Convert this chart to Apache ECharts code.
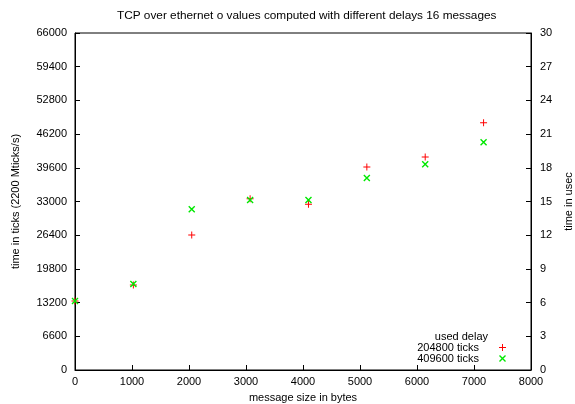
<!DOCTYPE html>
<html>
<head>
<meta charset="utf-8">
<script src="https://cdn.jsdelivr.net/npm/echarts@6/dist/echarts.min.js"></script>
<style>html,body{margin:0;padding:0;background:#fff;}#c{width:575px;height:404px;}</style>
</head>
<body>
<div id="c"></div>
<script>
const titleText = 'TCP over ethernet o values computed with different delays 16 messages';
const messageSizes = [0, 1024, 2048, 3072, 4096, 5120, 6144, 7168];
const ticks204800 = [13500, 16650, 26440, 33550, 32450, 39760, 41720, 48430];
const ticks409600 = [13500, 16840, 31470, 33300, 33300, 37600, 40290, 44600];
const seriesNames = ['204800 ticks', '409600 ticks'];
const legendTitle = 'used delay';

const FONT = 'Liberation Sans, Arial, Helvetica, sans-serif';
const PLUS = 'path://M4.3,0h1.4v10h-1.4z M0,4.3h10v1.4h-10z';
const CROSS = 'path://M0,1.4L1.4,0L10,8.6L8.6,10z M8.6,0L10,1.4L1.4,10L0,8.6z';
const plain = v => String(v);

const chart = echarts.init(document.getElementById('c'), null, {renderer: 'canvas'});
const axisCommon = {
  axisLine: {show: true, lineStyle: {color: '#000', width: 1}},
  axisTick: {show: true, inside: true, length: 5, lineStyle: {color: '#000'}},
  splitLine: {show: false},
  axisLabel: {color: '#000', fontFamily: FONT, fontSize: 11, formatter: plain},
  nameTextStyle: {color: '#000', fontFamily: FONT, fontSize: 11},
  nameLocation: 'middle'
};
chart.setOption({
  animation: false,
  backgroundColor: '#fff',
  title: {
    text: titleText, left: 117, top: 10, padding: 0,
    textStyle: {fontFamily: FONT, fontSize: 11.8, fontWeight: 'normal', color: '#000'}
  },
  grid: {left: 75, right: 44, top: 33, bottom: 34, outerBoundsMode: 'none', containLabel: false,
         show: true, borderColor: '#000', borderWidth: 1, backgroundColor: 'transparent'},
  xAxis: Object.assign({}, axisCommon, {
    type: 'value', min: 0, max: 8000, interval: 1000,
    name: 'message size in bytes', nameGap: 22,
    axisLabel: Object.assign({}, axisCommon.axisLabel, {margin: 6})
  }),
  yAxis: [
    Object.assign({}, axisCommon, {
      type: 'value', min: 0, max: 66000, interval: 6600, position: 'left',
      name: 'time in ticks (2200 Mticks/s)', nameGap: 54, nameRotate: 90,
      axisLabel: Object.assign({}, axisCommon.axisLabel, {margin: 8})
    }),
    Object.assign({}, axisCommon, {
      type: 'value', min: 0, max: 30, interval: 3, position: 'right',
      name: 'time in usec', nameGap: 32, nameRotate: 90,
      axisLabel: Object.assign({}, axisCommon.axisLabel, {margin: 9})
    })
  ],
  legend: {
    orient: 'vertical', align: 'right', right: 69, top: 342, padding: 0, itemGap: 0,
    itemWidth: 7, itemHeight: 7,
    textStyle: {fontFamily: FONT, fontSize: 11, color: '#000', lineHeight: 11, padding: [0, 15, 0, 0]},
    data: [{name: seriesNames[0], icon: PLUS}, {name: seriesNames[1], icon: CROSS}]
  },
  graphic: [{
    type: 'text', right: 87, top: 331,
    style: {text: legendTitle, fontFamily: FONT, fontSize: 11, fill: '#000'}
  }],
  series: [
    {
      name: seriesNames[0], type: 'scatter', symbol: PLUS, symbolSize: 7,
      itemStyle: {color: '#ff0000', opacity: 1},
      data: messageSizes.map((x, i) => [x, ticks204800[i]])
    },
    {
      name: seriesNames[1], type: 'scatter', symbol: CROSS, symbolSize: 7,
      itemStyle: {color: '#00e800', opacity: 1},
      data: messageSizes.map((x, i) => [x, ticks409600[i]])
    }
  ]
});
</script>
</body>
</html>
